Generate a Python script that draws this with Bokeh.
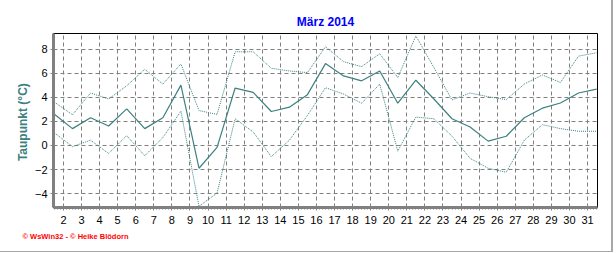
import numpy as np
from bokeh.plotting import figure
from bokeh.models import Range1d, FixedTicker, Title, ColumnDataSource
from bokeh.embed import file_html
from bokeh.resources import INLINE

# ---- data (dew point, März 2014) ----
days = list(range(1, 32))
t_mean = [2.6, 1.40, 2.30, 1.62, 3.04, 1.40, 2.30, 5.01, -1.89, -0.16,
          4.77, 4.41, 2.82, 3.18, 4.22, 6.80, 5.78, 5.37, 6.19, 3.51,
          5.42, 3.86, 2.22, 1.53, 0.36, 0.77, 2.30, 3.10, 3.53, 4.36, 4.68]
t_max = [3.6, 2.55, 4.36, 3.86, 4.96, 6.33, 5.10, 6.77, 2.90, 2.58,
         7.78, 7.78, 6.41, 6.19, 6.05, 8.20, 6.96, 6.55, 7.62, 5.64,
         9.10, 6.47, 3.78, 4.36, 4.05, 3.81, 5.10, 5.86, 5.23, 7.42, 7.70]
t_min = [1.05, -0.10, 0.44, -0.66, 0.82, -0.85, 0.66, 2.85, -5.05, -3.95,
         2.22, 1.12, -0.93, 0.44, 2.49, 4.80, 4.27, 3.51, 5.10, -0.47,
         2.36, 2.22, 0.77, -1.07, -1.89, -2.22, 0.44, 1.73, 1.40, 1.18, 1.18]
x_ticks = list(range(2, 32))
y_ticks = [-4, -2, 0, 2, 4, 6, 8]
title_text = "März 2014"
y_label = "Taupunkt  (°C)"
footer = "© WsWin32 - © Heike Blödorn"

src = ColumnDataSource(dict(x=[d + 0.5 for d in days], mean=t_mean, tmax=t_max, tmin=t_min))

p = figure(width=613, height=252, output_backend="svg", toolbar_location=None,
           x_range=Range1d(1.45, 31.55), y_range=Range1d(-5.15, 9.3),
           min_border_left=53, min_border_right=16, min_border_top=33, min_border_bottom=45)
p.styles = {"border-right": "2px solid #a8a8a8", "border-bottom": "1px solid #a8a8a8"}
p.background_fill_color = "white"
p.border_fill_color = "white"
p.outline_line_color = "black"
p.outline_line_width = 1

teal = "#3C8080"
p.line("x", "tmax", source=src, line_color=teal, line_width=1, line_dash="1 1")
p.line("x", "tmin", source=src, line_color=teal, line_width=1, line_dash="1 1")
p.line("x", "mean", source=src, line_color=teal, line_width=1.2)

# axes
p.xaxis.ticker = FixedTicker(ticks=x_ticks, minor_ticks=list(np.arange(1.5, 31.6, 1 / 6)))
p.yaxis.ticker = FixedTicker(ticks=y_ticks)
for ax in (p.xaxis[0], p.yaxis[0]):
    ax.axis_line_color = "#808080"
    ax.axis_line_width = 3
    ax.major_tick_line_color = "#808080"
    ax.minor_tick_line_color = "#808080"
    ax.major_tick_in = 0
    ax.minor_tick_in = 0
    ax.major_label_text_font = "Liberation Sans"
    ax.major_label_text_font_size = "11px"
    ax.major_label_text_color = "black"
p.xaxis.major_tick_out = 3
p.xaxis.minor_tick_out = 2
p.xaxis.major_label_standoff = 5
p.yaxis.major_tick_out = 3
p.yaxis.minor_tick_line_color = None
p.yaxis.major_label_standoff = 3
p.yaxis.axis_label = y_label
p.yaxis.axis_label_text_color = teal
p.yaxis.axis_label_text_font = "Liberation Sans"
p.yaxis.axis_label_text_font_style = "bold"
p.yaxis.axis_label_text_font_size = "12px"
p.yaxis.axis_label_standoff = 2

for g in (p.xgrid[0], p.ygrid[0]):
    g.grid_line_color = "#808080"
    g.grid_line_dash = "4 3"
    g.grid_line_width = 1

p.title.text = title_text
p.title.text_color = "#0000FF"
p.title.text_font = "Liberation Sans"
p.title.text_font_style = "bold"
p.title.text_font_size = "12px"
p.title.align = "center"
p.title.offset = -15

foot = Title(text=footer, text_color="red", text_font="Liberation Sans",
             text_font_style="bold", text_font_size="7.5px", align="left",
             offset=-31, standoff=7)
p.add_layout(foot, "below")

open("out.html", "w").write(file_html(p, INLINE))
